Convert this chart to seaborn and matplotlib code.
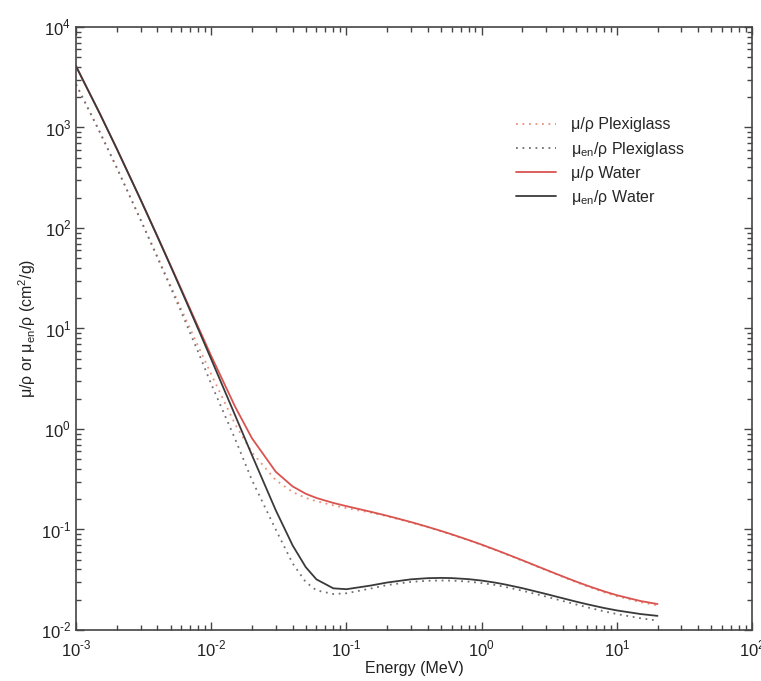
import numpy as np
import pandas as pd
import seaborn as sns
import matplotlib.pyplot as plt

# photon energy (MeV)
energy = [0.001, 0.0015, 0.002, 0.003, 0.004, 0.005, 0.006, 0.008, 0.01, 0.015,
          0.02, 0.03, 0.04, 0.05, 0.06, 0.08, 0.1, 0.15, 0.2, 0.3, 0.4, 0.5,
          0.6, 0.8, 1.0, 1.25, 1.5, 2.0, 3.0, 4.0, 5.0, 6.0, 8.0, 10.0, 15.0, 20.0]

# water, cm2/g
water_mu = [4078, 1376, 617.3, 192.9, 82.78, 42.58, 24.64, 10.37, 5.329, 1.673,
            0.8096, 0.3756, 0.2683, 0.2269, 0.2059, 0.1837, 0.1707, 0.1505, 0.1370,
            0.1186, 0.1061, 0.09687, 0.08956, 0.07865, 0.07072, 0.06323, 0.05754,
            0.04942, 0.03969, 0.03403, 0.03031, 0.02770, 0.02429, 0.02219, 0.01941, 0.01813]
water_muen = [4065, 1372, 615.2, 191.7, 81.91, 41.88, 24.05, 9.915, 4.944, 1.374,
              0.5503, 0.1557, 0.06947, 0.04223, 0.03190, 0.02597, 0.02546, 0.02764,
              0.02967, 0.03192, 0.03279, 0.03299, 0.03284, 0.03206, 0.03103, 0.02965,
              0.02833, 0.02608, 0.02281, 0.02066, 0.01915, 0.01806, 0.01658, 0.01566,
              0.01441, 0.01382]

# plexiglass (PMMA), cm2/g
pmma_mu = [2700, 900, 400, 122, 52.0, 26.8, 15.6, 6.70, 3.50, 1.12,
           0.585, 0.310, 0.236, 0.206, 0.191, 0.174, 0.163, 0.1475, 0.1355,
           0.1175, 0.1051, 0.0961, 0.0888, 0.0780, 0.0701, 0.0627, 0.0571,
           0.0490, 0.0393, 0.0337, 0.0299, 0.0273, 0.0238, 0.0217, 0.0189, 0.01757]
pmma_muen = [2690, 897, 398, 120.5, 50.8, 25.7, 14.6, 5.85, 2.80, 0.80,
             0.31, 0.10, 0.046, 0.030, 0.0248, 0.0228, 0.0232, 0.0258,
             0.0280, 0.0301, 0.0309, 0.0311, 0.0310, 0.0303, 0.0293, 0.0281,
             0.0268, 0.0246, 0.0215, 0.0194, 0.01795, 0.01686, 0.01537, 0.01441,
             0.01308, 0.0124]

x_exp = [-3, -2, -1, 0, 1, 2]
y_exp = [-2, -1, 0, 1, 2, 3, 4]

sns.set_style('ticks')
plt.rcParams['font.family'] = ['Liberation Sans', 'DejaVu Sans']
plt.rcParams['mathtext.fontset'] = 'custom'
plt.rcParams['mathtext.rm'] = 'Liberation Sans'

df = pd.DataFrame({'E': energy, 'wmu': water_mu, 'wmuen': water_muen,
                   'pmu': pmma_mu, 'pmuen': pmma_muen})

fig = plt.figure(figsize=(7.61, 6.81), dpi=100)
ax = fig.add_axes([0.0999, 0.0749, 0.8883, 0.8855])

dot = (0, (1, 2.6))
sns.lineplot(data=df, x='E', y='pmu', ax=ax, color='#e8907a', linestyle=dot, lw=1.3,
             label='μ/ρ Plexiglass')
sns.lineplot(data=df, x='E', y='pmuen', ax=ax, color='#707070', linestyle=dot, lw=1.3,
             label=r'μ$_{\mathregular{en}}$/ρ Plexiglass')
sns.lineplot(data=df, x='E', y='wmu', ax=ax, color='#d9534f', lw=1.3,
             label='μ/ρ Water')
sns.lineplot(data=df, x='E', y='wmuen', ax=ax, color='#3a3a3a', lw=1.3,
             label=r'μ$_{\mathregular{en}}$/ρ Water')

ax.set_xscale('log')
ax.set_yscale('log')
ax.set_xlim(1e-3, 1e2)
ax.set_ylim(1e-2, 1e4)


def pow_label(e):
    s = str(e).replace('-', '\u2010')
    return '10$^{\\mathregular{' + s + '}}$'


ax.set_xticks([10.0 ** e for e in x_exp], [pow_label(e) for e in x_exp])
ax.set_yticks([10.0 ** e for e in y_exp], [pow_label(e) for e in y_exp])

ax.tick_params(which='both', direction='in', top=True, right=True, color='#444444',
               labelsize=12, labelcolor='#222222')
ax.tick_params(which='major', length=6, width=1)
ax.tick_params(which='minor', length=3.5, width=1)
ax.tick_params(axis='x', which='major', pad=6.5)
for s in ax.spines.values():
    s.set_color('#444444')
    s.set_linewidth(1.2)

ax.set_xlabel('Energy (MeV)', fontsize=11.5, color='#222222', labelpad=1)
ax.set_ylabel(r'μ/ρ or μ$_{\mathregular{en}}$/ρ (cm$^{\mathregular{2}}$/g)', fontsize=11.5,
              color='#222222', labelpad=2)

ax.legend(loc='upper left', bbox_to_anchor=(0.63, 0.874), frameon=False, fontsize=11.5,
          handlelength=2.5, handletextpad=0.9, labelspacing=0.45)

fig.savefig('out.png', dpi=100)
